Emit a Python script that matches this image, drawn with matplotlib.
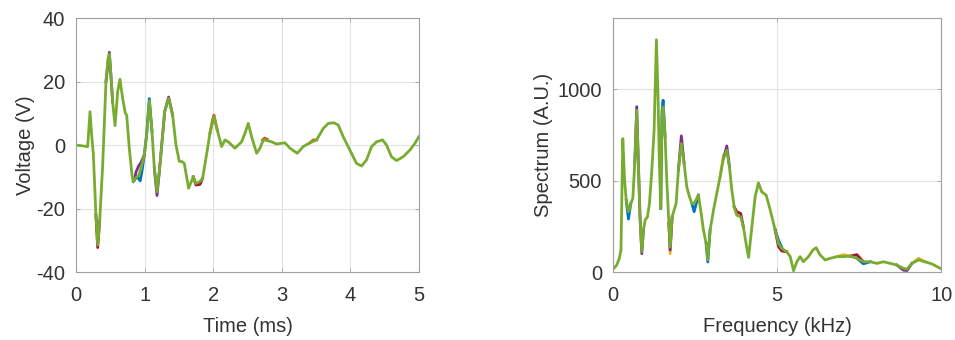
import matplotlib
matplotlib.use('Agg')
import matplotlib.pyplot as plt

plt.rcParams['font.family'] = ['Liberation Sans', 'DejaVu Sans']
plt.rcParams['axes.unicode_minus'] = False

# MATLAB default colour order
C_BLUE = '#0072BD'
C_ORANGE = '#D95319'
C_YELLOW = '#EDB120'
C_PURPLE = '#7E2F8E'
C_GREEN = '#77AC30'
C_RED = '#A2142F'
GAP = float('nan')  # breaks a line between separate stretches

############# left panel: time signal #############
t_ms = [0, 0.17, 0.204, 0.225, 0.253, 0.29, 0.316, 0.345, 0.389, 0.437, 0.465, 0.486, 0.51,
        0.534, 0.569, 0.607, 0.641, 0.68, 0.719, 0.739, 0.777, 0.816, 0.836, 0.855, 0.875,
        0.913, 0.948, 0.996, 1.03, 1.069, 1.108, 1.142, 1.181, 1.215, 1.254, 1.293, 1.351,
        1.409, 1.458, 1.506, 1.545, 1.579, 1.642, 1.71, 1.749, 1.808, 1.846, 1.919, 1.953,
        1.992, 2.012, 2.06, 2.123, 2.172, 2.22, 2.318, 2.415, 2.464, 2.512, 2.561, 2.634,
        2.683, 2.731, 2.789, 2.852, 2.925, 3.046, 3.12, 3.226, 3.314, 3.411, 3.508, 3.605,
        3.678, 3.761, 3.824, 3.897, 3.994, 4.091, 4.164, 4.237, 4.31, 4.382, 4.47, 4.528,
        4.601, 4.674, 4.771, 4.869, 4.942, 5.0]
v_green = [0, -0.5, 10.5, 4, -3, -22, -31.5, -24, -6.3, 20, 27, 28.6, 22,
           13.6, 6.1, 16.8, 20.7, 14.7, 10, 9.4, -1, -9.4, -11.5, -10.8, -10.3,
           -9.7, -7.3, -3.1, 3.1, 13.9, 4.2, -7.3, -14.7, -8.4, 1, 10.5, 14.7,
           9.4, 0, -5.2, -5.2, -5.8, -13.6, -10, -12.1, -11.5, -10.5, -1, 3.7,
           7.3, 8.9, 4.7, -0.5, 1.6, 1, -1, 1, 3.7, 6.8, 2.6, -2.6,
           -1, 1.6, 1.4, 1, 0.3, 0.7, -1, -2.6, -0.5, 0.7, 1.6, 5.2,
           6.8, 7, 6.3, 2.6, -1.6, -5.8, -6.6, -4.7, -0.5, 1, 1.6, 0,
           -3.7, -4.9, -3.7, -1.6, 0.5, 2.6]

# other repetitions, only where they show from under the green trace
t_blue = [0.836, 0.875, 0.913, 0.935, 0.96, 0.996, 1.03, 1.069, 1.108]
v_blue = [-11.5, -10.3, -10.5, -11.3, -8.5, -3.1, 3.5, 14.6, 4.2]
t_purple = [0.437, 0.486, 0.534, GAP, 0.855, 0.875, 0.913, 0.948, 0.996, GAP,
            1.142, 1.181, 1.215, 1.254, 1.293, 1.351, 1.409]
v_purple = [20, 29.2, 13.6, GAP, -10.8, -8.5, -6.6, -5.5, -3.1, GAP,
            -7.3, -15.9, -8.4, 1, 10.5, 15.1, 9.4]
t_red = [0.29, 0.316, 0.345, GAP, 1.71, 1.749, 1.808, 1.846]
v_red = [-22, -32.3, -24, GAP, -10, -12.6, -12.4, -10.5]
t_orange = [1.953, 1.992, 2.012, 2.06, GAP, 2.72, 2.75, 2.789, GAP, 3.411, 3.46, 3.508]
v_orange = [3.7, 8, 9.4, 4.7, GAP, 1.6, 2.2, 1.8, GAP, 0.7, 1.6, 1.6]

############# right panel: spectrum #############
f_khz = [0, 0.11, 0.19, 0.24, 0.295, 0.35, 0.40, 0.467, 0.539, 0.6, 0.66, 0.72, 0.77,
         0.82, 0.874, 0.925, 0.976, 1.047, 1.108, 1.18, 1.25, 1.32, 1.37, 1.41, 1.453,
         1.49, 1.524, 1.585, 1.636, 1.70, 1.738, 1.80, 1.86, 1.92, 1.99, 2.08, 2.165,
         2.246, 2.327, 2.4, 2.47, 2.6, 2.67, 2.754, 2.835, 2.886, 2.957, 3.06, 3.16,
         3.26, 3.364, 3.466, 3.547, 3.618, 3.69, 3.77, 3.89, 3.97, 4.07, 4.13, 4.23,
         4.33, 4.43, 4.53, 4.665, 4.79, 4.94, 5.04, 5.14, 5.29, 5.4, 5.5, 5.6,
         5.7, 5.8, 5.955, 6.09, 6.19, 6.31, 6.465, 6.62, 6.82, 7.02, 7.23, 7.43,
         7.63, 7.84, 8.04, 8.24, 8.45, 8.65, 8.85, 8.96, 9.11, 9.31, 9.51, 9.72,
         9.92, 10.0]
s_green = [15, 38, 75, 120, 730, 503, 393, 330, 375, 402, 594, 885, 594,
           302, 111, 230, 284, 302, 375, 557, 776, 1271, 958, 594, 348,
           850, 903, 740, 503, 266, 138, 302, 339, 375, 557, 703, 594,
           466, 412, 375, 375, 421, 339, 230, 157, 66, 230, 339, 430,
           521, 621, 667, 576, 448, 357, 311, 302, 248, 138, 80, 248,
           412, 488, 439, 421, 339, 230, 157, 129, 111, 84, 7, 56,
           84, 56, 84, 120, 133, 93, 66, 75, 84, 84, 87, 75,
           56, 56, 47, 56, 47, 38, 20, 16, 47, 66, 56, 44,
           25, 18]

f_blue = [0.40, 0.467, 0.539, GAP, 1.453, 1.49, 1.524, 1.585, GAP, 2.4, 2.47, 2.6, GAP,
          2.835, 2.886, 2.957, GAP, 4.94, 5.04, 5.14, GAP, 7.43, 7.63, 7.84]
s_blue = [393, 290, 375, GAP, 348, 880, 940, 740, GAP, 375, 330, 421, GAP,
          157, 55, 230, GAP, 230, 175, 135, GAP, 75, 45, 56]
f_purple = [0.66, 0.72, 0.77, 0.82, 0.874, 0.925, GAP, 1.70, 1.738, 1.80, GAP, 1.99, 2.08, 2.165,
            GAP, 3.364, 3.466, 3.547, GAP, 8.65, 8.85, 8.96, 9.11]
s_purple = [594, 905, 594, 302, 100, 230, GAP, 266, 120, 302, GAP, 557, 745, 594,
            GAP, 621, 690, 576, GAP, 38, 10, 8, 47]
f_yellow = [1.70, 1.738, 1.80, GAP, 3.26, 3.364, 3.466, GAP, 6.82, 7.02, 7.23, GAP, 9.11, 9.31, 9.51]
s_yellow = [266, 100, 302, GAP, 521, 640, 650, GAP, 84, 95, 87, GAP, 47, 75, 56]
f_red = [3.69, 3.77, 3.89, 3.97, GAP, 4.94, 5.04, 5.14, 5.29, GAP, 7.23, 7.43, 7.63]
s_red = [357, 330, 320, 248, GAP, 230, 140, 115, 111, GAP, 87, 95, 56]

TEXT = '#333333'
AXC = '#a0a0a0'
LW = 2.0
FS = 14.5


def style_axes(ax):
    ax.grid(True, color='#e3e3e3', linewidth=0.8)
    ax.set_axisbelow(True)
    for sp in ax.spines.values():
        sp.set_color(AXC)
        sp.set_linewidth(0.8)
    ax.tick_params(direction='in', length=3, width=0.6, color=AXC, labelcolor=TEXT,
                   labelsize=FS, top=True, right=True)
    ax.tick_params(axis='x', pad=10)
    ax.tick_params(axis='y', pad=8)


fig = plt.figure(figsize=(9.55, 3.4), dpi=100)
ax1 = fig.add_axes([0.0796, 0.2, 0.359, 0.747])
ax2 = fig.add_axes([0.642, 0.2, 0.3435, 0.747])

# left
ax1.plot(t_blue, v_blue, color=C_BLUE, lw=LW)
ax1.plot(t_orange, v_orange, color=C_ORANGE, lw=LW)
ax1.plot(t_purple, v_purple, color=C_PURPLE, lw=LW)
ax1.plot(t_red, v_red, color=C_RED, lw=LW)
ax1.plot(t_ms, v_green, color=C_GREEN, lw=LW)
ax1.set_xlim(0, 5)
ax1.set_ylim(-40, 40)
ax1.set_xticks([0, 1, 2, 3, 4, 5])
ax1.set_yticks([-40, -20, 0, 20, 40])
ax1.set_xlabel('Time (ms)', fontsize=FS, color=TEXT, labelpad=9)
ax1.set_ylabel('Voltage (V)', fontsize=FS, color=TEXT, labelpad=1)
style_axes(ax1)

# right
ax2.plot(f_blue, s_blue, color=C_BLUE, lw=LW)
ax2.plot(f_yellow, s_yellow, color=C_YELLOW, lw=LW)
ax2.plot(f_purple, s_purple, color=C_PURPLE, lw=LW)
ax2.plot(f_red, s_red, color=C_RED, lw=LW)
ax2.plot(f_khz, s_green, color=C_GREEN, lw=LW)
ax2.set_xlim(0, 10)
ax2.set_ylim(0, 1390)
ax2.set_xticks([0, 5, 10])
ax2.set_yticks([0, 500, 1000])
ax2.set_xlabel('Frequency (kHz)', fontsize=FS, color=TEXT, labelpad=9)
ax2.set_ylabel('Spectrum (A.U.)', fontsize=FS, color=TEXT, labelpad=3)
style_axes(ax2)

fig.savefig('out.png', dpi=100)
